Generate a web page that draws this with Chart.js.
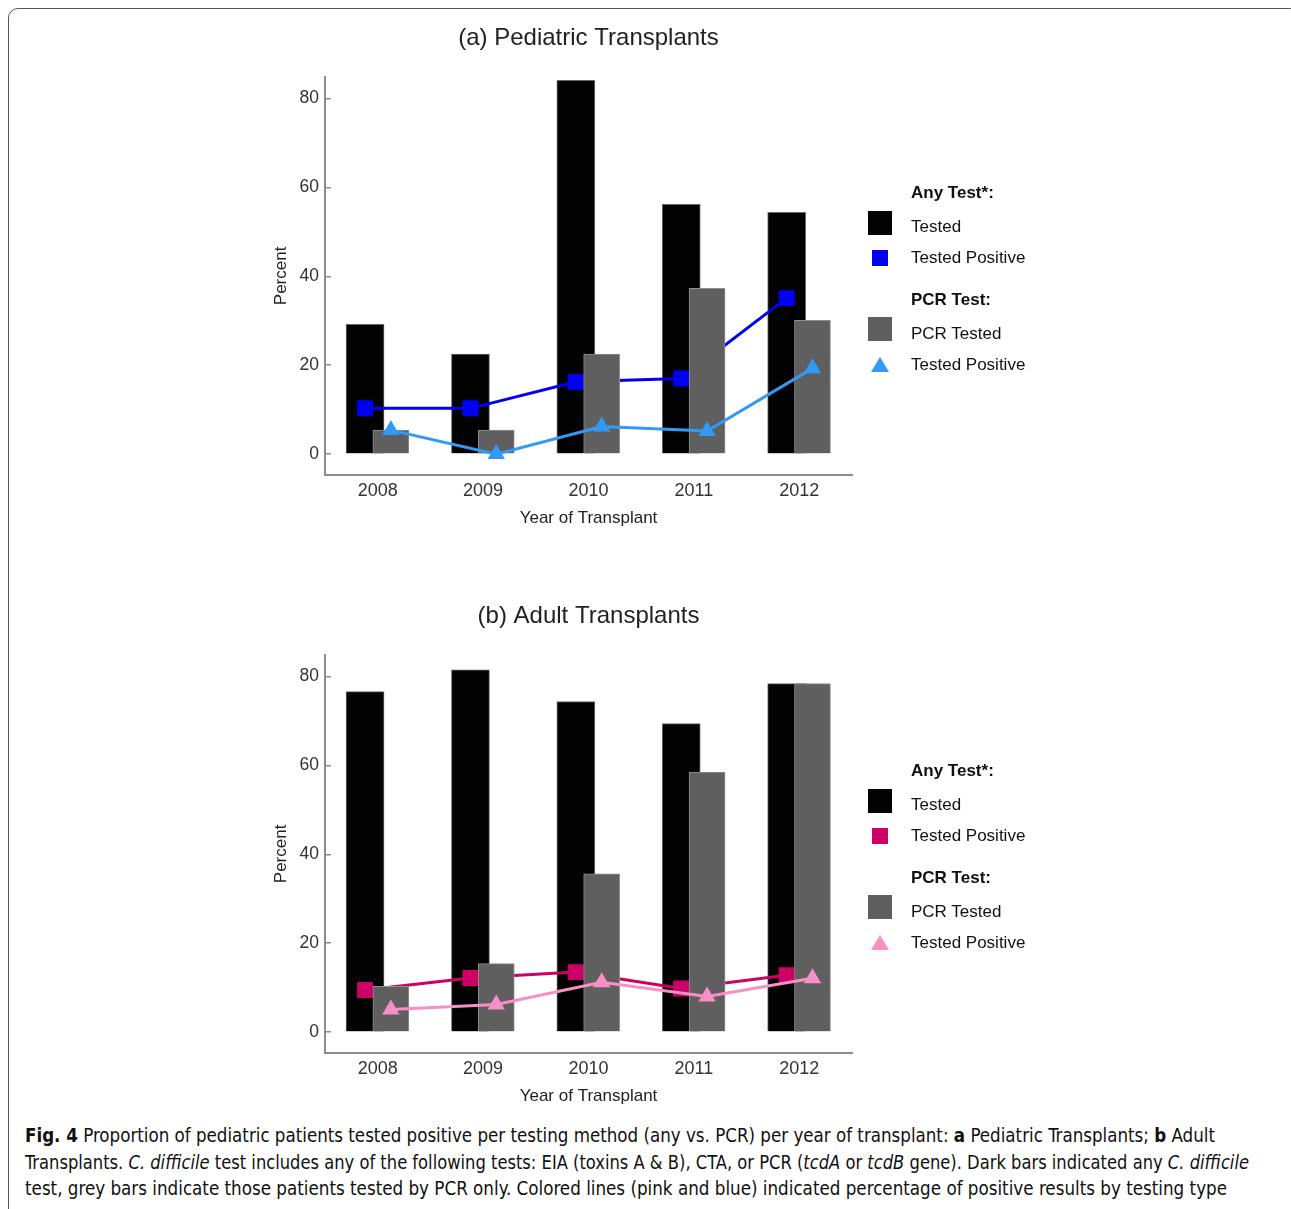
<!DOCTYPE html>
<html>
<head>
<meta charset="utf-8">
<script src="https://cdn.jsdelivr.net/npm/chart.js@4.4.0/dist/chart.umd.min.js"></script>
<style>
  html, body { margin: 0; padding: 0; background: #fff; }
  body { width: 1291px; height: 1209px; position: relative; overflow: hidden; font-family: 'Liberation Sans', Arial, sans-serif; }
  .frame { position: absolute; left: 8px; top: 8px; width: 1292px; height: 1260px; border: 1.5px solid #555; border-radius: 10px; box-sizing: border-box; }
  canvas { position: absolute; }
  .leg { position: absolute; left: 911px; font-size: 17px; line-height: 20px; color: #111; white-space: nowrap; z-index: 2; }
  .leg.head { font-weight: bold; }
  .sw { position: absolute; z-index: 2; }
  .tri { clip-path: polygon(50% 0, 100% 100%, 0 100%); }
  .cap { position: absolute; left: 25px; font-family: 'Liberation Sans Narrow', 'DejaVu Sans Condensed', sans-serif; font-size: 20px; line-height: 24px; color: #111; white-space: nowrap; transform-origin: 0 50%; z-index: 3; }
</style>
</head>
<body>
<div class="frame"></div>
<canvas id="chartA" width="676" height="535" style="left:250px; top:10px;"></canvas>
<canvas id="chartB" width="676" height="535" style="left:250px; top:588px;"></canvas>
<div id="legends"></div>

<div class="cap" id="cap1" style="top:1123px;"><b>Fig. 4</b> Proportion of pediatric patients tested positive per testing method (any vs. PCR) per year of transplant: <b>a</b> Pediatric Transplants; <b>b</b> Adult</div>
<div class="cap" id="cap2" style="top:1149.5px;">Transplants. <i>C. difficile</i> test includes any of the following tests: EIA (toxins A &amp; B), CTA, or PCR (<i>tcdA</i> or <i>tcdB</i> gene). Dark bars indicated any <i>C. difficile</i></div>
<div class="cap" id="cap3" style="top:1176px;">test, grey bars indicate those patients tested by PCR only. Colored lines (pink and blue) indicated percentage of positive results by testing type</div>

<script>
// values (percent)
const years = ['2008', '2009', '2010', '2011', '2012'];

const pedTested      = [29.2, 22.5, 84.1, 56.2, 54.4];
const pedPcrTested   = [5.4, 5.4, 22.5, 37.3, 30.1];
const pedPositive    = [10.3, 10.3, 16.3, 17.0, 35.1];
const pedPcrPositive = [5.4, 0.0, 6.2, 5.2, 19.3];

const adTested      = [76.6, 81.5, 74.4, 69.4, 78.4];
const adPcrTested   = [10.3, 15.4, 35.6, 58.5, 78.4];
const adPositive    = [9.5, 12.2, 13.5, 9.8, 12.8];
const adPcrPositive = [5.1, 6.2, 11.2, 8.0, 12.1];

const yTicks = [0, 20, 40, 60, 80];
const legendLabels = ['Any Test*:', 'Tested', 'Tested Positive', 'PCR Test:', 'PCR Tested', 'Tested Positive'];

const FONT = "'Liberation Sans', Arial, sans-serif";
const AXIS = '#8c8c8c';
// bars of one year sit a little left (any test) and right (PCR) of the label,
// done by sliding the range of two hidden linear axes
const ANY_SHIFT = -0.12;
const PCR_SHIFT = 0.125;

function points(vals) {
  return vals.map((v, i) => ({ x: Number(years[i]), y: v }));
}

function makeChart(id, title, tested, pcrTested, pos, pcrPos, dark, light) {
  return new Chart(document.getElementById(id), {
    type: 'bar',
    data: {
      datasets: [
        {
          type: 'line', label: legendLabels[5], data: points(pcrPos), xAxisID: 'xp', order: 0,
          borderColor: light, backgroundColor: light, borderWidth: 3,
          pointStyle: 'triangle', pointRadius: 10, pointBorderWidth: 0, pointBackgroundColor: light,
        },
        {
          label: legendLabels[4], data: points(pcrTested), xAxisID: 'xp', order: 1,
          backgroundColor: '#5f5f5f', borderColor: '#8f8f8f', borderWidth: 1,
          barThickness: 36, grouped: false,
        },
        {
          type: 'line', label: legendLabels[2], data: points(pos), xAxisID: 'xa', order: 2,
          borderColor: dark, backgroundColor: dark, borderWidth: 3,
          pointStyle: 'rect', pointRadius: 11.3, pointBorderWidth: 0, pointBackgroundColor: dark,
        },
        {
          label: legendLabels[1], data: points(tested), xAxisID: 'xa', order: 3,
          backgroundColor: '#020202', borderColor: '#666', borderWidth: 1,
          barThickness: 38, grouped: false,
        },
      ],
    },
    options: {
      responsive: false,
      animation: false,
      layout: { padding: { left: 15, right: 74, top: 0, bottom: 10 } },
      plugins: {
        legend: { display: false },
        tooltip: { enabled: false },
        title: {
          display: true,
          text: title,
          fullSize: false,
          color: '#222',
          font: { family: FONT, size: 24, weight: 'normal' },
          padding: { top: 14, bottom: 24 },
        },
      },
      scales: {
        x: {
          type: 'category',
          labels: years,
          offset: true,
          grid: { display: false, drawTicks: false },
          border: { display: true, color: AXIS, width: 2 },
          ticks: { color: '#333', font: { family: FONT, size: 18 }, padding: 5 },
          title: { display: true, text: 'Year of Transplant', color: '#222', font: { family: FONT, size: 17 }, padding: 6 },
          afterFit: (s) => { s.height = 60; },
        },
        xa: { type: 'linear', display: false, offset: false, min: 2007.5 - ANY_SHIFT, max: 2012.5 - ANY_SHIFT },
        xp: { type: 'linear', display: false, offset: false, min: 2007.5 - PCR_SHIFT, max: 2012.5 - PCR_SHIFT },
        y: {
          min: -4.7,
          max: 84.9,
          afterBuildTicks: (s) => { s.ticks = yTicks.map(v => ({ value: v })); },
          grid: { drawOnChartArea: false, drawTicks: true, tickLength: -6, color: AXIS, lineWidth: 1.5 },
          border: { display: true, color: AXIS, width: 2 },
          ticks: { color: '#333', font: { family: FONT, size: 17.5 }, padding: 12 },
          title: { display: true, text: 'Percent', color: '#222', font: { family: FONT, size: 17 }, padding: 6 },
          afterFit: (s) => { s.width = 60; },
        },
      },
    },
  });
}

makeChart('chartA', '(a) Pediatric Transplants', pedTested, pedPcrTested, pedPositive, pedPcrPositive, '#0000f4', '#3399f6');
makeChart('chartB', '(b) Adult Transplants', adTested, adPcrTested, adPositive, adPcrPositive, '#cc0066', '#f890c6');

// legends, built as html next to each chart
function addLegend(dy, dark, light) {
  const box = document.getElementById('legends');
  const rows = [193, 226.5, 258, 300, 333.5, 365];
  legendLabels.forEach((txt, i) => {
    const d = document.createElement('div');
    d.className = 'leg' + (i === 0 || i === 3 ? ' head' : '');
    d.style.top = (rows[i] + dy - 10) + 'px';
    d.textContent = txt;
    box.appendChild(d);
  });
  const sw = [
    { x: 868, y: 211, w: 24, h: 24, c: '#020202', cls: '' },
    { x: 872, y: 250, w: 16, h: 16, c: dark, cls: '' },
    { x: 868, y: 317, w: 24, h: 24, c: '#5f5f5f', cls: '' },
    { x: 871, y: 357, w: 18, h: 15, c: light, cls: 'tri' },
  ];
  sw.forEach(s => {
    const d = document.createElement('div');
    d.className = 'sw ' + s.cls;
    Object.assign(d.style, { left: s.x + 'px', top: (s.y + dy) + 'px', width: s.w + 'px', height: s.h + 'px', background: s.c });
    box.appendChild(d);
  });
}
addLegend(0, '#0000f4', '#3399f6');
addLegend(578, '#cc0066', '#f890c6');

// squeeze caption lines to the widths of the printed figure
[['cap1', 1190], ['cap2', 1224], ['cap3', 1202]].forEach(([id, w]) => {
  const el = document.getElementById(id);
  const nat = el.getBoundingClientRect().width;
  el.style.transform = 'scaleX(' + (w / nat) + ')';
});
</script>
</body>
</html>
